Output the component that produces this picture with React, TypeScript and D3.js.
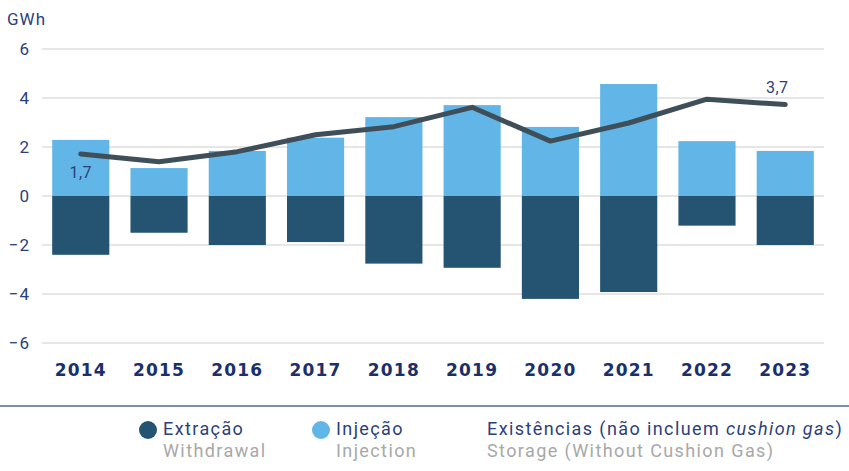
import React from "react";
import * as d3 from "d3";

const years = ["2014", "2015", "2016", "2017", "2018", "2019", "2020", "2021", "2022", "2023"];
const injection = [2.29, 1.14, 1.84, 2.38, 3.22, 3.71, 2.82, 4.57, 2.24, 1.84];
const withdrawal = [-2.4, -1.5, -2.0, -1.88, -2.76, -2.93, -4.2, -3.92, -1.21, -2.0];
const storage = [1.71, 1.4, 1.81, 2.5, 2.83, 3.62, 2.24, 2.98, 3.95, 3.73];
const yTicks = [-6, -4, -2, 0, 2, 4, 6];
const labelIdx = [0, 9];
const labelText = ["1,7", "3,7"];

const W = 849;
const H = 471;
const C_INJ = "#62b6e7";
const C_WD = "#255472";
const C_LINE = "#3f4f59";
const C_TEXT = "#2b3f7c";

export default function App() {
  const x = d3.scaleBand<string>().domain(years).range([42, 824]).paddingInner(0.27).paddingOuter(0.13);
  const y = d3.scaleLinear().domain([-6, 6]).range([343, 49]);
  const line = d3
    .line<number>()
    .x((_, i) => (x(years[i]) as number) + x.bandwidth() / 2)
    .y((d) => y(d))
    .curve(d3.curveLinear);

  const fmt = (v: number) => (v < 0 ? "\u2212" + Math.abs(v) : String(v));

  return (
    <svg
      width={W}
      height={H}
      style={{ position: "absolute", left: 0, top: 0, background: "#fff" }}
      fontFamily="Roboto, 'Noto Sans', sans-serif"
    >
      <text x={7} y={25} fontSize={17} letterSpacing={1} fill={C_TEXT}>GWh</text>
      {yTicks.map((t) => (
        <g key={t}>
          <line x1={42} x2={824} y1={y(t)} y2={y(t)} stroke="#dedede" strokeWidth={1.5} />
          <text x={30} y={y(t) + 6} fontSize={17} letterSpacing={1} textAnchor="end" fill={C_TEXT}>
            {fmt(t)}
          </text>
        </g>
      ))}
      {years.map((yr, i) => (
        <g key={yr}>
          <rect x={x(yr)} width={x.bandwidth()} y={y(injection[i])} height={y(0) - y(injection[i])} fill={C_INJ} />
          <rect x={x(yr)} width={x.bandwidth()} y={y(0)} height={y(withdrawal[i]) - y(0)} fill={C_WD} />
          <text
            x={(x(yr) as number) + x.bandwidth() / 2}
            y={376}
            textAnchor="middle"
            fontFamily="'DejaVu Sans', sans-serif"
            fontWeight="bold"
            fontSize={17}
            letterSpacing={1.2}
            fill="#1b2f6b"
          >
            {yr}
          </text>
        </g>
      ))}
      <path d={line(storage) || ""} fill="none" stroke={C_LINE} strokeWidth={5} strokeLinecap="round" strokeLinejoin="round" />
      {labelIdx.map((idx, k) => (
        <text
          key={idx}
          x={(x(years[idx]) as number) + x.bandwidth() / 2 + (k === 0 ? 0 : -8)}
          y={k === 0 ? y(storage[idx]) + 24 : y(storage[idx]) - 12}
          textAnchor="middle"
          fontSize={16}
          letterSpacing={0.5}
          fill={C_TEXT}
        >
          {labelText[k]}
        </text>
      ))}
      <line x1={0} x2={W} y1={406} y2={406} stroke="#51669a" strokeWidth={1.5} />
      <g fontSize={18} letterSpacing={1.4}>
        <circle cx={148} cy={430} r={9} fill={C_WD} />
        <text x={163} y={435} fill={C_TEXT}>Extração</text>
        <text x={163} y={457} fill="#a8a8a8">Withdrawal</text>
        <circle cx={321} cy={430} r={9} fill={C_INJ} />
        <text x={336} y={435} fill={C_TEXT}>Injeção</text>
        <text x={336} y={457} fill="#a8a8a8">Injection</text>
        <text x={487} y={435} fill={C_TEXT}>
          Existências (não incluem <tspan fontStyle="italic">cushion gas</tspan>)
        </text>
        <text x={487} y={457} fill="#a8a8a8">Storage (Without Cushion Gas)</text>
      </g>
    </svg>
  );
}
